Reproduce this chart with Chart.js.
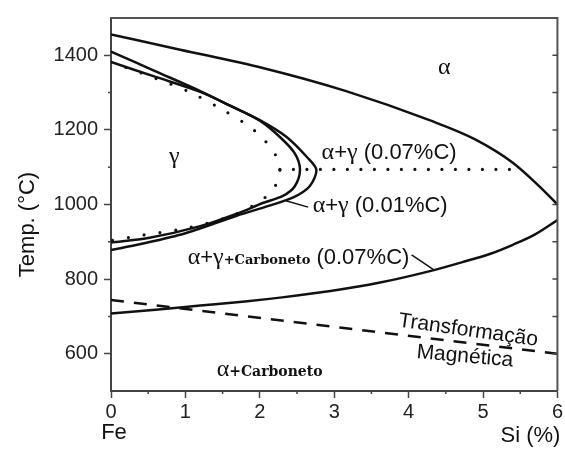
<!DOCTYPE html>
<html>
<head>
<meta charset="utf-8">
<script src="https://cdn.jsdelivr.net/npm/chart.js@4.4.0/dist/chart.umd.min.js"></script>
<style>
  html, body { margin: 0; padding: 0; background: #fff; }
  #wrap { width: 565px; height: 452px; }
</style>
</head>
<body>
<div id="wrap"><canvas id="diagrama" width="565" height="452"></canvas></div>
<script>
// Diagrama Fe-Si (seção com 0.01 e 0.07 %C)

// marcas dos eixos
const xTicks = [0, 1, 2, 3, 4, 5, 6];
const yTicks = [600, 800, 1000, 1200, 1400];

// limite superior alfa / alfa+gama
const siAlpha = [0, 0.93, 2.04, 3.16, 4.28, 4.9, 5.4, 5.75, 6.0];
const tAlpha = [1456, 1415, 1366, 1304, 1226, 1174, 1112, 1050, 1000];

// limite inferior alfa+gama+carboneto / alfa+carboneto
const siCarb = [0, 0.6, 1.2, 1.8, 2.3, 2.95, 3.6, 4.3, 4.75, 5.1, 5.4, 5.7, 6.0];
const tCarb = [708, 718, 729, 740, 751, 768, 790, 822, 847, 868, 892, 920, 958];

// laço gama externo
const siLoopExt = [0, 0.6, 1.2, 1.6, 2.0, 2.36, 2.63, 2.76, 2.67, 2.45, 2.13, 1.69, 1.0, 0.4, 0];
const tLoopExt = [1410, 1357, 1304, 1265, 1226, 1181, 1128, 1093, 1049, 1019, 997, 970, 923, 894, 878];

// laço gama interno
const siLoopInt = [0, 0.6, 1.2, 1.6, 2.0, 2.27, 2.47, 2.54, 2.47, 2.31, 2.04, 1.7, 1.2, 0.5, 0];
const tLoopInt = [1382, 1342, 1302, 1265, 1225, 1181, 1137, 1093, 1049, 1023, 1004, 976, 942, 910, 898];

// laço pontilhado
const siDots = [0, 0.6, 1.04, 1.43, 1.84, 2.04, 2.2, 2.27, 2.22, 2.04, 1.64, 1.0, 0.43, 0];
const tDots = [1382, 1338, 1303, 1262, 1212, 1177, 1137, 1093, 1054, 1014, 971, 936, 918, 903];

// linha pontilhada horizontal (0.07%C)
const siHoriz = [2.27, 5.38];
const tHoriz = [1094, 1094];

// transformação magnética
const siMag = [0, 6];
const tMag = [744, 600];

function pts(xs, ys) {
    return xs.map((x, i) => ({ x: x, y: ys[i] }));
}

const preto = '#111';

function linha(label, xs, ys, extra) {
    return Object.assign({
        label: label,
        data: pts(xs, ys),
        showLine: true,
        borderColor: preto,
        borderWidth: 2.5,
        pointRadius: 0,
        tension: 0.3,
        fill: false
    }, extra || {});
}

const fontSans = '"Liberation Sans", Arial, sans-serif';
const greek = '24px "Liberation Serif", serif';
const sans22 = '22px ' + fontSans;
const carb13 = 'bold 13px "DejaVu Serif", serif';
const carb14 = 'bold 14px "DejaVu Serif", serif';

// textos do diagrama (posição em unidades dos eixos)
const rotulos = [
    { x: 4.48, y: 1351, align: 'center', parts: [['α', greek]] },
    { x: 0.85, y: 1112, align: 'center', parts: [['γ', greek]] },
    { x: 2.83, y: 1122, parts: [['α', greek], ['+', sans22], ['γ', greek], [' (0.07%C)', sans22]] },
    { x: 2.71, y: 980, parts: [['α', greek], ['+', sans22], ['γ', greek], [' (0.01%C)', sans22]] },
    { x: 1.03, y: 841, parts: [['α', greek], ['+', sans22], ['γ', greek], ['+Carboneto', carb13], [' (0.07%C)', sans22]] },
    { x: 1.42, y: 541, parts: [['α', greek], ['+Carboneto', carb14]] },
    { x: 4.79, y: 647, align: 'center', rot: 8, parts: [['Transformação', '21px ' + fontSans]] },
    { x: 4.75, y: 577, align: 'center', rot: 5, parts: [['Magnética', '21px ' + fontSans]] }
];

// linhas de chamada
const chamadas = [
    [2.35, 1010, 2.65, 993],
    [4.04, 865, 4.33, 826]
];

function drawRich(ctx, x, y, parts, align) {
    let total = 0;
    parts.forEach(p => { ctx.font = p[1]; total += ctx.measureText(p[0]).width; });
    let cx = align === 'center' ? x - total / 2 : x;
    parts.forEach(p => {
        ctx.font = p[1];
        ctx.fillText(p[0], cx, y);
        cx += ctx.measureText(p[0]).width;
    });
}

const anotacoes = {
    id: 'anotacoes',
    afterDatasetsDraw(chart) {
        const ctx = chart.ctx;
        const xs = chart.scales.x, ys = chart.scales.y;
        const a = chart.chartArea;
        ctx.save();

        // moldura: topo e direita
        ctx.strokeStyle = '#555';
        ctx.lineWidth = 2;
        ctx.beginPath();
        ctx.moveTo(a.left, a.top);
        ctx.lineTo(a.right, a.top);
        ctx.lineTo(a.right, a.bottom);
        ctx.stroke();

        // marcas menores e marcas do lado direito
        ctx.strokeStyle = '#444';
        ctx.lineWidth = 1.5;
        ctx.beginPath();
        for (let v = 0.5; v < 6; v += 1) {
            const px = xs.getPixelForValue(v);
            ctx.moveTo(px, a.bottom);
            ctx.lineTo(px, a.bottom + 3);
        }
        for (let v = 700; v < 1500; v += 200) {
            const py = ys.getPixelForValue(v);
            ctx.moveTo(a.left, py);
            ctx.lineTo(a.left - 3, py);
        }
        for (let v = 600; v <= 1400; v += 100) {
            const py = ys.getPixelForValue(v);
            ctx.moveTo(a.right, py);
            ctx.lineTo(a.right - 5, py);
        }
        ctx.stroke();

        // linhas de chamada
        ctx.strokeStyle = preto;
        ctx.lineWidth = 1.5;
        ctx.beginPath();
        chamadas.forEach(c => {
            ctx.moveTo(xs.getPixelForValue(c[0]), ys.getPixelForValue(c[1]));
            ctx.lineTo(xs.getPixelForValue(c[2]), ys.getPixelForValue(c[3]));
        });
        ctx.stroke();

        // textos
        ctx.fillStyle = preto;
        ctx.textBaseline = 'alphabetic';
        ctx.textAlign = 'left';
        rotulos.forEach(r => {
            const px = xs.getPixelForValue(r.x);
            const py = ys.getPixelForValue(r.y);
            ctx.save();
            ctx.translate(px, py);
            if (r.rot) ctx.rotate(r.rot * Math.PI / 180);
            drawRich(ctx, 0, 0, r.parts, r.align);
            ctx.restore();
        });

        // títulos dos eixos
        ctx.font = '22px ' + fontSans;
        ctx.textBaseline = 'middle';
        ctx.textAlign = 'center';
        ctx.fillText('Fe', xs.getPixelForValue(0) + 3, a.bottom + 42);
        ctx.textAlign = 'right';
        ctx.fillText('Si (%)', a.right + 3, a.bottom + 45);

        ctx.save();
        ctx.translate(28, (a.top + a.bottom) / 2 + 20);
        ctx.rotate(-Math.PI / 2);
        ctx.textAlign = 'center';
        ctx.fillText('Temp. (°C)', 0, 0);
        ctx.restore();

        ctx.restore();
    }
};

const diagramaCtx = document.getElementById('diagrama').getContext('2d');
new Chart(diagramaCtx, {
    type: 'scatter',
    data: {
        datasets: [
            linha('alfa', siAlpha, tAlpha, { cubicInterpolationMode: 'monotone' }),
            linha('carboneto', siCarb, tCarb, { cubicInterpolationMode: 'monotone' }),
            linha('gama externo', siLoopExt, tLoopExt),
            linha('gama interno', siLoopInt, tLoopInt),
            linha('gama 0.07%C', siDots, tDots, {
                borderWidth: 3.2,
                borderDash: [0, 16],
                borderCapStyle: 'round'
            }),
            linha('alfa+gama 0.07%C', siHoriz, tHoriz, {
                tension: 0,
                borderWidth: 3.2,
                borderDash: [0, 13.5],
                borderCapStyle: 'round'
            }),
            linha('transformação magnética', siMag, tMag, {
                tension: 0,
                borderWidth: 2.6,
                borderDash: [13, 10]
            })
        ]
    },
    options: {
        responsive: false,
        animation: false,
        devicePixelRatio: 1,
        layout: {
            padding: { top: 11, right: 7, left: 0, bottom: 0 }
        },
        plugins: {
            legend: { display: false },
            tooltip: { enabled: false }
        },
        scales: {
            x: {
                type: 'linear',
                min: 0,
                max: 6,
                afterBuildTicks: axis => { axis.ticks = xTicks.map(v => ({ value: v })); },
                afterFit: axis => { axis.height = 61; },
                ticks: {
                    color: '#222',
                    font: { family: fontSans, size: 20 },
                    padding: 2,
                    maxRotation: 0,
                    autoSkip: false,
                    callback: v => String(v)
                },
                grid: {
                    drawOnChartArea: false,
                    tickLength: 7,
                    tickWidth: 1.5,
                    tickColor: '#444'
                },
                border: { color: '#444', width: 2 }
            },
            y: {
                type: 'linear',
                min: 500,
                max: 1500,
                afterBuildTicks: axis => { axis.ticks = yTicks.map(v => ({ value: v })); },
                afterFit: axis => { axis.width = 111; },
                ticks: {
                    color: '#222',
                    font: { family: fontSans, size: 20 },
                    padding: 6,
                    autoSkip: false,
                    callback: v => String(v)
                },
                grid: {
                    drawOnChartArea: false,
                    tickLength: 7,
                    tickWidth: 1.5,
                    tickColor: '#444'
                },
                border: { color: '#444', width: 2 }
            }
        }
    },
    plugins: [anotacoes]
});
</script>
</body>
</html>
